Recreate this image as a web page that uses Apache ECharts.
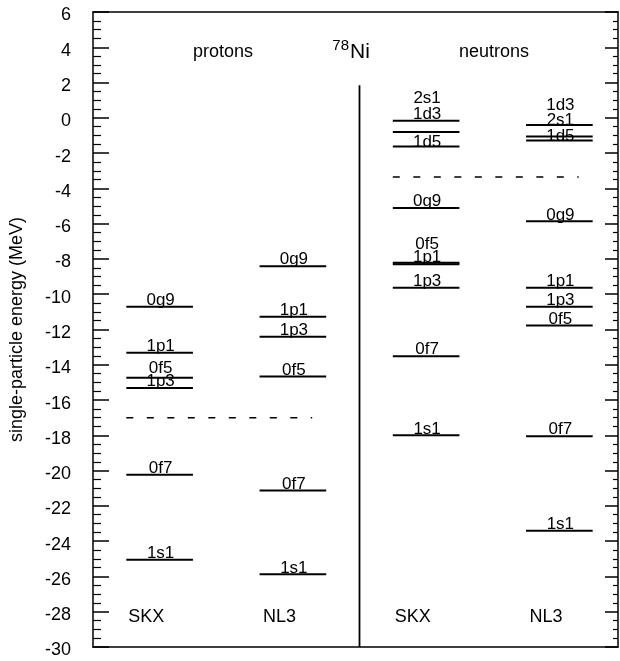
<!DOCTYPE html>
<html>
<head>
<meta charset="utf-8">
<script src="https://cdn.jsdelivr.net/npm/echarts@6/dist/echarts.min.js"></script>
<style>
  html, body { margin: 0; padding: 0; background: #fff; }
  #chart { width: 620px; height: 661px; }
</style>
</head>
<body>
<div id="chart"></div>
<script>
// ---------- data ----------
const columnNames = ['SKX', 'NL3', 'SKX', 'NL3'];

const pSKXStates   = ['0g9', '1p1', '0f5', '1p3', '0f7', '1s1'];
const pSKXEnergies = [-10.71, -13.32, -14.73, -15.32, -20.24, -25.05];

const pNL3States   = ['0g9', '1p1', '1p3', '0f5', '0f7', '1s1'];
const pNL3Energies = [-8.41, -11.28, -12.41, -14.67, -21.13, -25.88];

const nSKXStates   = ['1d3', '2s1', '1d5', '0g9', '0f5', '1p1', '1p3', '0f7', '1s1'];
const nSKXEnergies = [-0.17, -0.81, -1.62, -5.11, -8.22, -8.30, -9.64, -13.51, -18.00];

const nNL3States   = ['1d3', '2s1', '1d5', '0g9', '1p1', '1p3', '0f5', '0f7', '1s1'];
const nNL3Energies = [-0.40, -1.06, -1.28, -5.87, -9.64, -10.71, -11.77, -18.05, -23.41];

const protonFermi  = -17.0;
const neutronFermi = -3.36;

const yMin = -30, yMax = 6, yStep = 2;

// ---------- style / layout ----------
const FONT = '"Liberation Sans", Arial, Helvetica, sans-serif';
const halfWidth = 0.25;
// extra upward shift (px) of some labels to avoid overlap, as in the figure
const labelLift = {
  '0-0f5': 3,
  '2-2s1': 27, '2-1d5': -2, '2-0f5': 12,
  '3-1d3': 13, '3-2s1': 10, '3-1d5': -2
};

const columnsData = [
  [pSKXStates, pSKXEnergies],
  [pNL3States, pNL3Energies],
  [nSKXStates, nSKXEnergies],
  [nNL3States, nNL3Energies]
];
const levels = [];
columnsData.forEach(function (c, ci) {
  c[0].forEach(function (s, k) { levels.push({ col: ci, state: s, e: c[1][k] }); });
});

const chart = echarts.init(document.getElementById('chart'), null, { renderer: 'canvas' });

const axisColor = '#000';
const option = {
  backgroundColor: '#fff',
  animation: false,
  grid: { left: 93, right: 2, top: 12, bottom: 14, show: false, containLabel: false, outerBoundsMode: 'none' },
  xAxis: [
    { type: 'value', min: 0, max: 3.94, position: 'bottom',
      axisLine: { show: true, onZero: false, lineStyle: { color: axisColor, width: 1.5 } },
      axisTick: { show: false }, axisLabel: { show: false }, splitLine: { show: false } },
    { type: 'value', min: 0, max: 3.94, position: 'top',
      axisLine: { show: true, onZero: false, lineStyle: { color: axisColor, width: 1.5 } },
      axisTick: { show: false }, axisLabel: { show: false }, splitLine: { show: false } }
  ],
  yAxis: [
    { type: 'value', min: yMin, max: yMax, interval: yStep, position: 'left',
      axisLine: { show: true, onZero: false, lineStyle: { color: axisColor, width: 1.5 } },
      axisTick: { show: true, inside: true, length: 16, lineStyle: { color: axisColor, width: 1.5 } },
      minorTick: { show: true, splitNumber: 4, length: 8, lineStyle: { color: axisColor, width: 1.2 } },
      axisLabel: { margin: 22, color: '#000',
                   formatter: function (v) { return '{v|' + v + '}'; },
                   rich: { v: { fontSize: 18, fontFamily: FONT, color: '#000', padding: [7, 0, 0, 0] } } },
      splitLine: { show: false },
      name: 'single-particle energy (MeV)', nameLocation: 'middle', nameGap: 67,
      nameTextStyle: { fontSize: 18, color: '#000', fontFamily: FONT } },
    { type: 'value', min: yMin, max: yMax, interval: yStep, position: 'right',
      axisLine: { show: true, onZero: false, lineStyle: { color: axisColor, width: 1.5 } },
      axisTick: { show: true, inside: true, length: 13, lineStyle: { color: axisColor, width: 1.5 } },
      minorTick: { show: true, splitNumber: 4, length: 5, lineStyle: { color: axisColor, width: 1.2 } },
      axisLabel: { show: false }, splitLine: { show: false } }
  ],
  graphic: [
    { type: 'text', x: 223, y: 52, style: { text: 'protons', font: '18px ' + FONT, fill: '#000', textAlign: 'center', textVerticalAlign: 'middle' } },
    { type: 'text', x: 349, y: 46, style: { text: '78', font: '15px ' + FONT, fill: '#000', textAlign: 'right', textVerticalAlign: 'middle' } },
    { type: 'text', x: 350, y: 52, style: { text: 'Ni', font: '21px ' + FONT, fill: '#000', textAlign: 'left', textVerticalAlign: 'middle' } },
    { type: 'text', x: 494, y: 52, style: { text: 'neutrons', font: '18px ' + FONT, fill: '#000', textAlign: 'center', textVerticalAlign: 'middle' } }
  ],
  series: [
    {
      type: 'custom', name: 'levels',
      data: levels.map(function (l) { return [l.col, l.e]; }),
      renderItem: function (params, api) {
        const lv = levels[params.dataIndex];
        const xc = api.value(0) + 0.5;
        const e = api.value(1);
        const a = api.coord([xc - halfWidth, e]);
        const b = api.coord([xc + halfWidth, e]);
        const lift = (labelLift[lv.col + '-' + lv.state] || 0);
        return {
          type: 'group',
          children: [
            { type: 'line', shape: { x1: a[0], y1: a[1], x2: b[0], y2: b[1] },
              style: { stroke: '#000', lineWidth: 2 } },
            { type: 'text', x: (a[0] + b[0]) / 2 + 1, y: a[1] + 2 - lift,
              style: { text: lv.state, font: '17px ' + FONT, fill: '#000',
                       textAlign: 'center', textVerticalAlign: 'bottom' } }
          ]
        };
      }
    },
    {
      type: 'custom', name: 'fermi',
      data: [[0, protonFermi], [2, neutronFermi]],
      renderItem: function (params, api) {
        const c = api.value(0), e = api.value(1);
        const a = api.coord([c + 0.5 - halfWidth, e]);
        const b = api.coord([c + 1.5 + 0.145, e]);
        return { type: 'line', shape: { x1: a[0], y1: a[1], x2: b[0], y2: b[1] },
                 style: { stroke: '#000', lineWidth: 1.5, lineDash: [7, 13.5] } };
      }
    },
    {
      type: 'custom', name: 'divider',
      data: [[2, 1.85]],
      renderItem: function (params, api) {
        const a = api.coord([api.value(0), api.value(1)]);
        const b = api.coord([api.value(0), yMin]);
        return { type: 'line', shape: { x1: a[0], y1: a[1], x2: b[0], y2: b[1] },
                 style: { stroke: '#000', lineWidth: 1.8 } };
      }
    },
    {
      type: 'custom', name: 'columns',
      data: columnNames.map(function (n, i) { return [i, -28.3]; }),
      renderItem: function (params, api) {
        const p = api.coord([api.value(0) + 0.4, api.value(1)]);
        return { type: 'text', x: p[0], y: p[1],
                 style: { text: columnNames[params.dataIndex], font: '18px ' + FONT, fill: '#000',
                          textAlign: 'center', textVerticalAlign: 'middle' } };
      }
    }
  ]
};
chart.setOption(option);
</script>
</body>
</html>
